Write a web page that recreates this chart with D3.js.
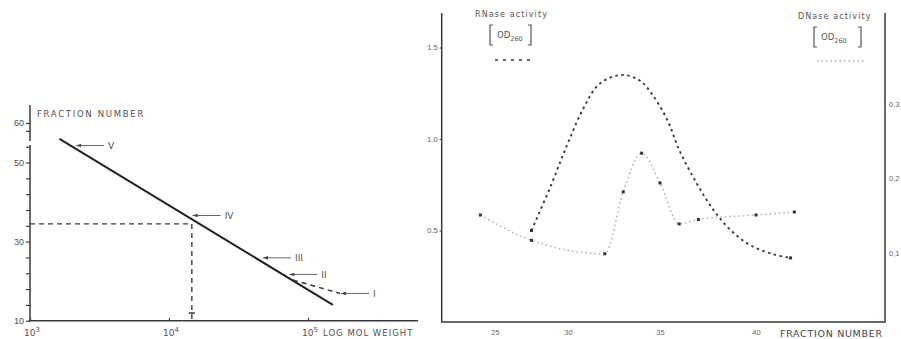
<!DOCTYPE html>
<html>
<head>
<meta charset="utf-8">
<script src="https://cdn.jsdelivr.net/npm/d3@7"></script>
<style>
  body { margin: 0; background: #fff; }
  svg { display: block; font-family: "DejaVu Sans", sans-serif; }
</style>
</head>
<body>
<svg id="chart" width="901" height="339"></svg>
<script>
// ---- left panel: fraction number vs log mol weight ----
const calibMW = [1630, 151000];
const calibFraction = [56, 14];
const peakLabels = ['V', 'IV', 'III', 'II', 'I'];
const peakMW = [2110, 14550, 46700, 72100, 170000];
const peakFraction = [54.3, 36.6, 25.9, 21.7, 16.9];
const deviationMW = [78000, 170000];
const deviationFraction = [20.3, 16.9];
const readMW = 14600;
const readFraction = 34.5;
const fractionTickLabels = [10, 30, 50, 60];
const fractionMinorTicks = [10, 14, 18, 22, 26, 30, 34, 38, 42, 46, 50, 54, 58, 60];
const mwTicks = [1e3, 1e4, 1e5];

// ---- right panel: RNase / DNase activity vs fraction ----
const fractionLabels = [25, 30, 35, 40];
const rnaseTicks = [0.5, 1.0, 1.5];
const dnaseTicks = [0.1, 0.2, 0.3];
const dnaseFraction = [24, 27.5, 32, 33, 34, 35, 36, 37, 40, 42];
const dnaseOD = [0.151, 0.117, 0.099, 0.182, 0.234, 0.194, 0.139, 0.145, 0.151, 0.155];
const rnaseFraction = [27.5, 28.8, 29.9, 30.8, 31.7, 32.9, 33.9, 34.6, 35.4, 36.0, 36.9, 37.8, 38.7, 39.7, 40.9, 41.8];
const rnaseOD = [0.50, 0.74, 0.96, 1.16, 1.30, 1.35, 1.32, 1.24, 1.10, 0.94, 0.76, 0.61, 0.50, 0.42, 0.37, 0.35];

const ink = '#3a3a3a';
const textInk = '#505050';
const svg = d3.select('#chart');

// ================= left panel =================
const xL = d3.scaleLog().domain([1e3, 1e5]).range([30, 308]);
const yL = d3.scaleLinear().domain([10, 60]).range([320.7, 123]);
const left = svg.append('g');

// axes lines
left.append('line').attr('x1', 30).attr('x2', 30).attr('y1', 105).attr('y2', 321)
  .attr('stroke', ink).attr('stroke-width', 1.5);
left.append('line').attr('x1', 29).attr('x2', 418).attr('y1', 320.7).attr('y2', 320.7)
  .attr('stroke', ink).attr('stroke-width', 1.5);
// small break in the y axis
left.append('rect').attr('x', 28).attr('y', 141).attr('width', 4).attr('height', 4).attr('fill', '#fff');

const yAxisL = left.append('g')
  .attr('transform', 'translate(30,0)')
  .call(d3.axisLeft(yL).tickValues(fractionMinorTicks).tickSize(4)
    .tickFormat(d => fractionTickLabels.includes(d) ? d : ''));
yAxisL.select('.domain').remove();
yAxisL.selectAll('line').attr('stroke', ink).attr('stroke-width', 1.2);
yAxisL.selectAll('text').attr('fill', textInk).attr('font-size', 9).attr('x', -6);

const xAxisL = left.append('g')
  .attr('transform', 'translate(0,320.7)')
  .call(d3.axisBottom(xL).tickValues(mwTicks).tickSize(-3).tickFormat(''));
xAxisL.select('.domain').remove();
xAxisL.selectAll('line').attr('stroke', ink).attr('stroke-width', 1.2);
mwTicks.forEach(v => {
  const t = left.append('text').attr('x', xL(v) - 6).attr('y', 336)
    .attr('fill', textInk).attr('font-size', 9).text('10');
  t.append('tspan').attr('dy', -4).attr('font-size', 7).text(Math.round(Math.log10(v)));
});

left.append('text').attr('x', 37).attr('y', 117).attr('fill', textInk)
  .attr('font-size', 8.5).attr('letter-spacing', 1.7).text('FRACTION NUMBER');
left.append('text').attr('x', 323).attr('y', 336).attr('fill', textInk)
  .attr('font-size', 8.5).attr('letter-spacing', 1).text('LOG MOL WEIGHT');

// reading lines
left.append('path')
  .attr('d', d3.line()([[30, yL(readFraction)], [xL(readMW), yL(readFraction)], [xL(readMW), 320.7]]))
  .attr('fill', 'none').attr('stroke', ink).attr('stroke-width', 1.4).attr('stroke-dasharray', '5,4');
left.append('line').attr('x1', xL(readMW) - 3).attr('x2', xL(readMW) + 3)
  .attr('y1', 313).attr('y2', 313).attr('stroke', ink).attr('stroke-width', 1.5);

// calibration line
const calib = calibMW.map((m, i) => [xL(m), yL(calibFraction[i])]);
left.append('path').attr('d', d3.line()(calib))
  .attr('fill', 'none').attr('stroke', '#222').attr('stroke-width', 2);

// deviation (dashed)
const dev = deviationMW.map((m, i) => [xL(m), yL(deviationFraction[i])]);
left.append('path').attr('d', d3.line()(dev))
  .attr('fill', 'none').attr('stroke', ink).attr('stroke-width', 1.5).attr('stroke-dasharray', '5,4');

// peak arrows
peakLabels.forEach((lab, i) => {
  const px = xL(peakMW[i]) + 1, py = yL(peakFraction[i]);
  left.append('line').attr('x1', px).attr('x2', px + 28).attr('y1', py).attr('y2', py)
    .attr('stroke', '#666').attr('stroke-width', 1);
  left.append('path')
    .attr('d', `M${px},${py}L${px + 5},${py - 1.8}L${px + 5},${py + 1.8}Z`)
    .attr('fill', '#444');
  left.append('text').attr('x', px + 32).attr('y', py + 3.5).attr('fill', textInk)
    .attr('font-size', 9).text(lab);
});

// ================= right panel =================
const xR = d3.scaleLinear().domain([25, 30, 35, 40]).range([495, 568, 660, 756]);
const yR = d3.scaleLinear().domain([0, 1.5]).range([322, 47.5]);
const yR2 = d3.scaleLinear().domain([0.1, 0.3]).range([253, 104]);
const right = svg.append('g');

right.append('path').attr('d', 'M441.7,13V322H885V13')
  .attr('fill', 'none').attr('stroke', ink).attr('stroke-width', 1.5);

const xAxisR = right.append('g').attr('transform', 'translate(0,322)')
  .call(d3.axisBottom(xR).tickValues(fractionLabels).tickSize(0).tickPadding(8));
xAxisR.select('.domain').remove();
xAxisR.selectAll('text').attr('fill', '#666').attr('font-size', 7.5);

const yAxisR = right.append('g').attr('transform', 'translate(441.7,0)')
  .call(d3.axisLeft(yR).tickValues(rnaseTicks).tickSize(2).tickPadding(2).tickFormat(d3.format('.1f')));
yAxisR.select('.domain').remove();
yAxisR.selectAll('line').attr('stroke', ink);
yAxisR.selectAll('text').attr('fill', '#666').attr('font-size', 7.5);

const yAxisR2 = right.append('g').attr('transform', 'translate(885,0)')
  .call(d3.axisRight(yR2).tickValues(dnaseTicks).tickSize(0).tickPadding(4)
    .tickFormat(d => d3.format('.1f')(d).replace('.', ',')));
yAxisR2.select('.domain').remove();
yAxisR2.selectAll('text').attr('fill', '#666').attr('font-size', 7.5);

right.append('text').attr('x', 780).attr('y', 337).attr('fill', '#444')
  .attr('font-size', 9.5).attr('letter-spacing', 0.7).text('FRACTION NUMBER');

// legends
function bracketLabel(x, y, w) {
  const g = right.append('g');
  g.append('path').attr('d', `M${x + 3},${y - 10}H${x}V${y + 10}H${x + 3}`)
    .attr('fill', 'none').attr('stroke', '#555').attr('stroke-width', 1.2);
  g.append('path').attr('d', `M${x + w - 3},${y - 10}H${x + w}V${y + 10}H${x + w - 3}`)
    .attr('fill', 'none').attr('stroke', '#555').attr('stroke-width', 1.2);
  const t = g.append('text').attr('x', x + 7).attr('y', y + 3).attr('fill', '#555').attr('font-size', 8.5).text('OD');
  t.append('tspan').attr('dy', 3).attr('font-size', 6.5).text('260');
}
right.append('text').attr('x', 475).attr('y', 17).attr('fill', '#555')
  .attr('font-size', 8).attr('letter-spacing', 1.1).text('RNase  activity');
bracketLabel(490, 35, 41);
right.append('line').attr('x1', 495).attr('x2', 534).attr('y1', 60).attr('y2', 60)
  .attr('stroke', ink).attr('stroke-width', 1.6).attr('stroke-dasharray', '3,5');

right.append('text').attr('x', 798).attr('y', 19).attr('fill', '#555')
  .attr('font-size', 8).attr('letter-spacing', 1.1).text('DNase  activity');
bracketLabel(814, 37, 47);
right.append('line').attr('x1', 817).attr('x2', 864).attr('y1', 61).attr('y2', 61)
  .attr('stroke', '#aaa').attr('stroke-width', 1.3).attr('stroke-dasharray', '1.5,3');

// DNase curve (dotted, light)
const dnasePts = dnaseFraction.map((f, i) => [xR(f), yR2(dnaseOD[i])]);
right.append('path').attr('d', d3.line().curve(d3.curveMonotoneX)(dnasePts))
  .attr('fill', 'none').attr('stroke', '#aaa').attr('stroke-width', 1.4).attr('stroke-dasharray', '1.5,3');

// RNase curve (dark dotted)
const rnasePts = rnaseFraction.map((f, i) => [xR(f), yR(rnaseOD[i])]);
right.append('path').attr('d', d3.line().curve(d3.curveCatmullRom)(rnasePts))
  .attr('fill', 'none').attr('stroke', ink).attr('stroke-width', 1.9).attr('stroke-dasharray', '2.5,3.5');

// point markers
right.selectAll('.dpt').data(dnasePts).enter().append('rect')
  .attr('x', d => d[0] - 1.5).attr('y', d => d[1] - 1.5).attr('width', 3).attr('height', 3).attr('fill', '#333');
right.selectAll('.rpt').data([rnasePts[0], rnasePts[rnasePts.length - 1]]).enter().append('rect')
  .attr('x', d => d[0] - 1.5).attr('y', d => d[1] - 1.5).attr('width', 3).attr('height', 3).attr('fill', '#333');
</script>
</body>
</html>
